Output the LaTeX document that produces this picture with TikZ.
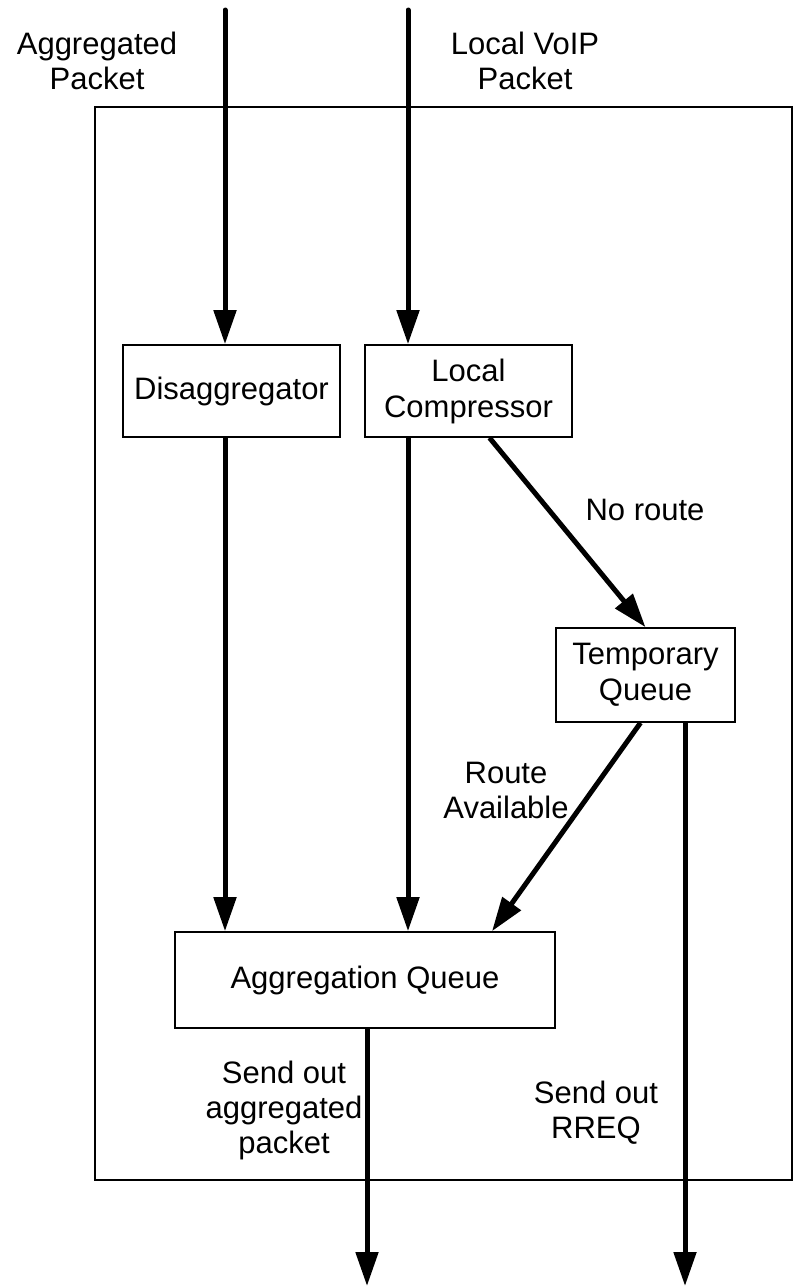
\documentclass[tikz,border=0pt]{standalone}
\usepackage{fontspec}
\setmainfont{Liberation Sans}
\usetikzlibrary{arrows.meta}

\begin{document}
\begin{tikzpicture}[x=1pt, y=-1pt,
    blok/.style={draw, line width=1.6pt, rectangle, align=center, inner sep=0pt,
      font=\fontsize{31}{36}\selectfont},
    etik/.style={align=center, inner sep=0pt, font=\fontsize{31}{35}\selectfont},
    flow/.style={line width=5pt, -{Triangle[length=34pt, width=22pt]}}]
  %tikz  aggregation node
    \useasboundingbox (0,0) rectangle (794,1288);

    \draw[line width=2.6pt] (95,107) rectangle (792,1180);

    \node[blok, minimum width=217pt, minimum height=92pt] (dis) at (231.5,391) {Disaggregator};
    \node[blok, minimum width=207pt, minimum height=92pt] (lc) at (468.5,391) {Local\\Compressor};
    \node[blok, minimum width=179pt, minimum height=94pt] (tq) at (645.5,675) {Temporary\\Queue};
    \node[blok, minimum width=380pt, minimum height=96pt] (aq) at (365,980) {Aggregation Queue};

    \coordinate(A) at (225,10);
    \coordinate(B) at (408,10);
    \coordinate(C) at (367,1286);
    \coordinate(D) at (685,1286);

    \draw[flow, line cap=round] (A) -- (A |- dis.north);
    \draw[flow, line cap=round] (B) -- (B |- lc.north);
    \draw[flow] (A |- dis.south) -- (A |- aq.north);
    \draw[flow] (B |- lc.south) -- (B |- aq.north);
    \draw[flow] ([xshift=21pt]lc.south) -- (tq.north);
    \draw[flow] ([xshift=-5pt]tq.south) -- ([xshift=127pt]aq.north);
    \draw[flow] (aq.south -| C) -- (C);
    \draw[flow] (tq.south -| D) -- (D);

    \node[etik] (inagg) at (97,61) {Aggregated\\Packet};
    \node[etik] (invoip) at (525,61) {Local VoIP\\Packet};
    \node[etik] (noroute) at (645,510) {No route};
    \node[etik] (avail) at (506,790) {Route\\Available};
    \node[etik] (outagg) at (284,1110) {Send out\\aggregated\\packet};
    \node[etik] (outrreq) at (596,1113) {Send out\\RREQ};
  \end{tikzpicture}
\end{document}
